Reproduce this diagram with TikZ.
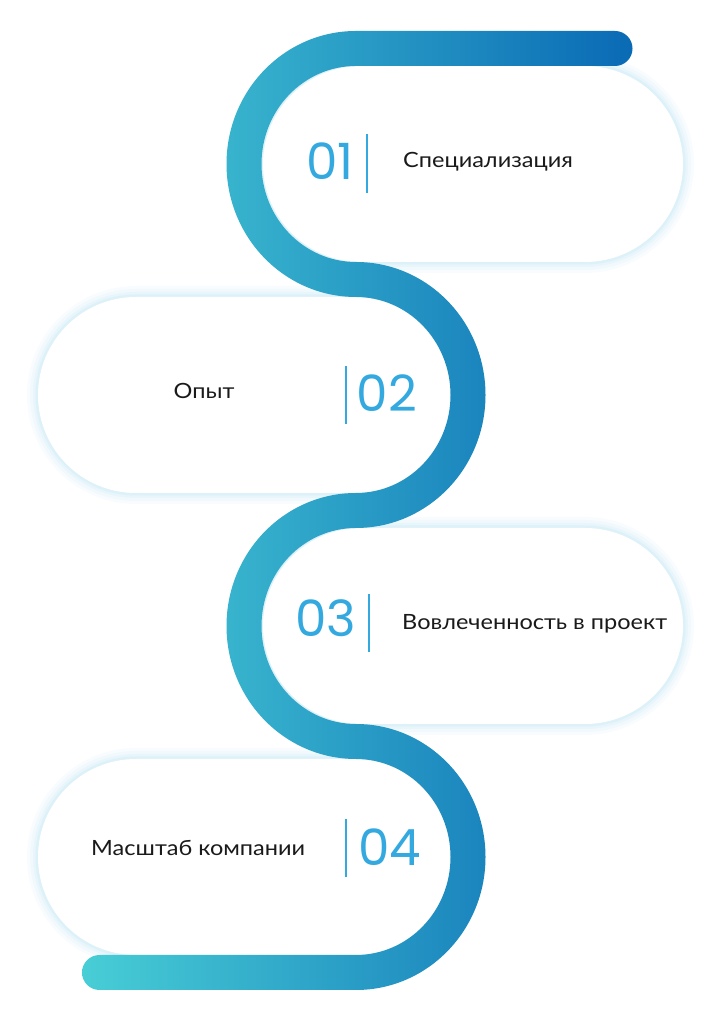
\documentclass[tikz,border=0pt]{standalone}
\usepackage{fontspec}
\setmainfont{Lato}
\newfontfamily\numfont{Poppins}
\usetikzlibrary{shapes.misc}
\definecolor{bandL}{HTML}{48CED6}
\definecolor{bandR}{HTML}{0A6AB5}
\definecolor{numblue}{HTML}{33A9E0}
\definecolor{glowc}{HTML}{8ED6F0}
\definecolor{txt}{HTML}{1A1A1A}
\tikzset{
  pill/.style={rounded rectangle, minimum height=196pt, inner sep=0pt, fill=white,
    preaction={draw=glowc, line width=22pt, opacity=0.05},
    preaction={draw=glowc, line width=16pt, opacity=0.07},
    preaction={draw=glowc, line width=10pt, opacity=0.09},
    preaction={draw=glowc, line width=5pt, opacity=0.12}},
  num/.style={font=\numfont\fontsize{50}{50}\selectfont, text=numblue, inner sep=0pt},
  label/.style={font=\fontsize{21}{25}\selectfont, text=txt, inner sep=0pt, xscale=1.12},
  divider/.style={draw=numblue, line width=1.8pt}
}
\begin{document}
\begin{tikzpicture}[x=1pt,y=1pt]
\useasboundingbox (0,0) rectangle (711,1024);
\fill[white] (0,0) rectangle (711,1024);
% pills
\node[pill, minimum width=420pt] (p1) at (473,860) {};
\node[pill, minimum width=414pt] (p2) at (245,629) {};
\node[pill, minimum width=420pt] (p3) at (473,398) {};
\node[pill, minimum width=414pt] (p4) at (245,167) {};
% band
\shade[left color=bandL, right color=bandR]
  (615,993) -- (356,993)
  arc[start angle=90, end angle=270, x radius=129.5, y radius=133]
  arc[start angle=90, end angle=-90, x radius=94.5, y radius=98]
  arc[start angle=90, end angle=270, x radius=129.5, y radius=133]
  arc[start angle=90, end angle=-90, x radius=94.5, y radius=98]
  -- (99.5,69)
  arc[start angle=90, end angle=270, radius=17.5]
  -- (356,34)
  arc[start angle=-90, end angle=90, x radius=129.5, y radius=133]
  arc[start angle=270, end angle=90, x radius=94.5, y radius=98]
  arc[start angle=-90, end angle=90, x radius=129.5, y radius=133]
  arc[start angle=270, end angle=90, x radius=94.5, y radius=98]
  -- (615,958)
  arc[start angle=-90, end angle=90, radius=17.5]
  -- cycle;
% texts
\node[num] (n1) at (330,863) {01};
\draw[divider] (367,890) -- (367,831);
\node[label, anchor=base west] (t1) at (403,856) {Специализация};

\node[num] (n2) at (387,630.5) {02};
\draw[divider] (346,658) -- (346,600);
\node[label, anchor=base] (t2) at (204,625) {Опыт};

\node[num] (n3) at (325.5,405.5) {03};
\draw[divider] (369,430) -- (369,372);
\node[label, anchor=base west] (t3) at (402,394) {Вовлеченность в проект};

\node[num] (n4) at (389.5,177) {04};
\draw[divider] (346,205) -- (346,147);
\node[label, anchor=base west] (t4) at (91,168) {Масштаб компании};
\end{tikzpicture}
\end{document}
